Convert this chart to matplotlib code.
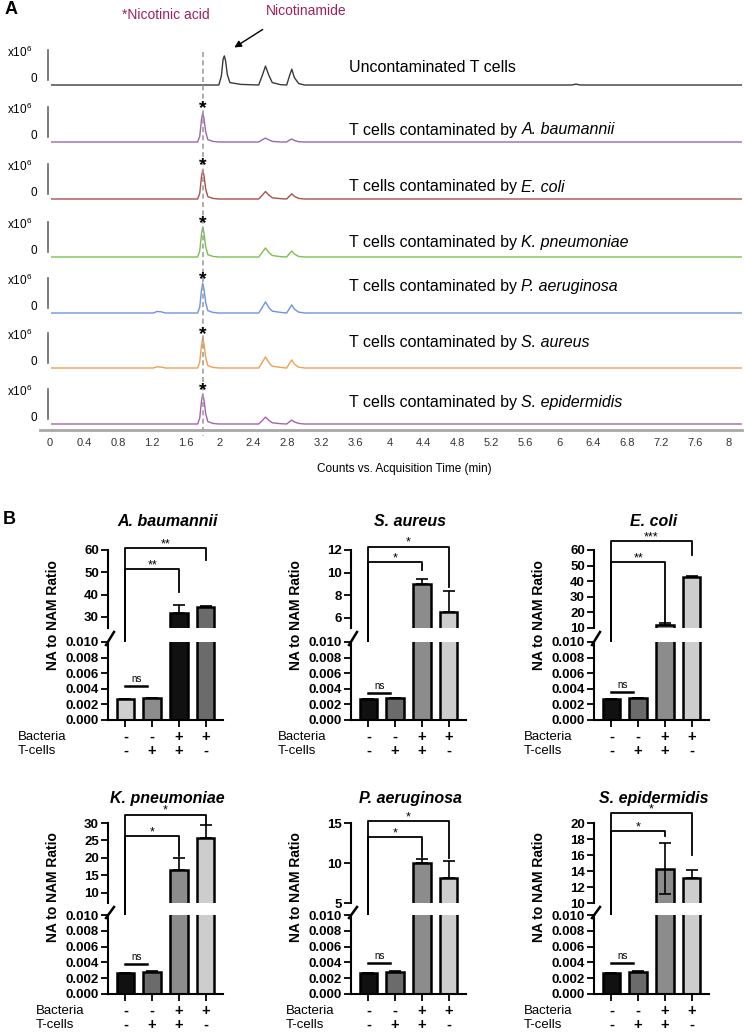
import numpy as np
import matplotlib.pyplot as plt
from matplotlib.lines import Line2D
from matplotlib.transforms import offset_copy

plt.rcParams['font.family'] = ['Liberation Sans', 'DejaVu Sans']
plt.rcParams['mathtext.fontset'] = 'custom'
plt.rcParams['mathtext.rm'] = 'Liberation Sans'
plt.rcParams['mathtext.it'] = 'Liberation Sans:italic'
plt.rcParams['mathtext.bf'] = 'Liberation Sans:bold'

# ---------------- panel A data: chromatograms (x10^6 counts)
time_min = [0.02, 1.22, 1.26, 1.31, 1.36, 1.74, 1.765, 1.785, 1.80, 1.815, 1.835, 1.86, 1.92,
            1.99, 2.02, 2.04, 2.055, 2.07, 2.09, 2.12, 2.25,
            2.46, 2.50, 2.54, 2.58, 2.62, 2.72,
            2.79, 2.82, 2.85, 2.88, 2.93, 3.00,
            6.15, 6.20, 6.25, 8.15]
trace_uncont = [0, 0, 0, 0, 0, 0, 0, 0, 0, 0, 0, 0, 0,
                0, 0.30, 0.85, 0.97, 0.80, 0.35, 0.08, 0.02,
                0, 0.30, 0.63, 0.32, 0.08, 0.01,
                0, 0.28, 0.53, 0.25, 0.05, 0,
                0, 0.03, 0, 0]
trace_abau = [0, 0, 0, 0, 0, 0, 0.19, 0.73, 0.97, 0.78, 0.34, 0.08, 0.02,
              0, 0, 0, 0, 0, 0, 0, 0,
              0, 0.07, 0.13, 0.07, 0.02, 0,
              0, 0.06, 0.10, 0.05, 0.01, 0,
              0, 0, 0, 0]
trace_ecoli = [0, 0, 0, 0, 0, 0, 0.19, 0.73, 0.97, 0.78, 0.34, 0.08, 0.02,
               0, 0, 0, 0, 0, 0, 0, 0,
               0, 0.12, 0.25, 0.13, 0.04, 0.01,
               0, 0.09, 0.17, 0.09, 0.02, 0,
               0, 0, 0, 0]
trace_kpneu = [0, 0, 0, 0, 0, 0, 0.20, 0.75, 1.0, 0.80, 0.35, 0.08, 0.02,
               0, 0, 0, 0, 0, 0, 0, 0,
               0, 0.15, 0.30, 0.15, 0.05, 0.01,
               0, 0.11, 0.20, 0.10, 0.02, 0,
               0, 0, 0, 0]
trace_paer = [0, 0, 0.05, 0.04, 0, 0, 0.20, 0.75, 1.0, 0.80, 0.35, 0.08, 0.02,
              0, 0, 0, 0, 0, 0, 0, 0,
              0, 0.18, 0.37, 0.18, 0.06, 0.02,
              0, 0.14, 0.27, 0.13, 0.03, 0,
              0, 0, 0, 0]
trace_saur = [0, 0, 0.04, 0.03, 0, 0, 0.20, 0.75, 1.0, 0.80, 0.35, 0.08, 0.02,
              0, 0, 0, 0, 0, 0, 0, 0,
              0, 0.18, 0.37, 0.18, 0.06, 0.02,
              0, 0.14, 0.27, 0.13, 0.03, 0,
              0, 0, 0, 0]
trace_sepi = [0, 0, 0, 0, 0, 0, 0.20, 0.75, 1.0, 0.80, 0.35, 0.08, 0.02,
              0, 0, 0, 0, 0, 0, 0, 0,
              0, 0.11, 0.23, 0.12, 0.04, 0.01,
              0, 0.07, 0.13, 0.07, 0.02, 0,
              0, 0, 0, 0]
traces = [trace_uncont, trace_abau, trace_ecoli, trace_kpneu, trace_paer, trace_saur, trace_sepi]
trace_prefix = ['Uncontaminated T cells'] + ['T cells contaminated by'] * 6
trace_species = ['', 'A. baumannii', 'E. coli', 'K. pneumoniae', 'P. aeruginosa',
                 'S. aureus', 'S. epidermidis']
trace_colors = ['#3a3a3a', '#9a68ae', '#a8524b', '#7cc050', '#6e93e0', '#efa050', '#a860b0']
na_time = 1.80
time_ticks = [0, 0.4, 0.8, 1.2, 1.6, 2, 2.4, 2.8, 3.2, 3.6, 4, 4.4, 4.8,
              5.2, 5.6, 6, 6.4, 6.8, 7.2, 7.6, 8]

# ---------------- panel B data: NA to NAM ratio
groups = ['A. baumannii', 'S. aureus', 'E. coli', 'K. pneumoniae', 'P. aeruginosa', 'S. epidermidis']
bacteria_sign = ['-', '-', '+', '+']
tcell_sign = ['-', '+', '+', '-']
ratio_mean = [[0.0027, 0.0028, 31.8, 34.6],
              [0.0027, 0.0028, 9.0, 6.5],
              [0.0027, 0.0028, 12.0, 42.5],
              [0.0027, 0.0028, 16.5, 25.6],
              [0.0027, 0.0028, 10.0, 8.1],
              [0.0027, 0.0028, 14.3, 13.1]]
ratio_sd = [[0.00002, 0.00005, 3.6, 0.3],
            [0.00002, 0.00005, 0.4, 1.85],
            [0.00002, 0.00005, 1.0, 0.8],
            [0.00002, 0.00005, 3.6, 3.7],
            [0.00002, 0.00005, 0.55, 2.2],
            [0.00002, 0.00005, 3.2, 1.0]]
two_sided = [[False] * 4] * 5 + [[False, False, True, False]]
sig_pairs = [(0, 2), (0, 3)]
sig_labels = [['**', '**'], ['*', '*'], ['**', '***'], ['*', '*'], ['*', '*'], ['*', '*']]
upper_lim = [(25, 60), (5.1, 12), (10, 60), (7.1, 30), (5, 15), (10, 20)]
upper_ticks = [[30, 40, 50, 60], [6, 8, 10, 12], [10, 20, 30, 40, 50, 60],
               [10, 15, 20, 25, 30], [5, 10, 15], [10, 12, 14, 16, 18, 20]]
lower_ticks = [0, 0.002, 0.004, 0.006, 0.008, 0.010]
bar_colors = [['#cfcfcf', '#8c8c8c', '#111111', '#6b6b6b']] + \
             [['#111111', '#6b6b6b', '#8c8c8c', '#cdcdcd']] * 5

# annotation placement (upper-axis units / lower-axis units)
bracket_y = [(51.5, 60.9), (10.9, 12.3), (52, 65.8), (26.2, 32.4), (13.25, 15.25), (19.0, 21.25)]
bracket_leg = [(41.2, 55.5), (10.2, 8.7), (13.5, 56.8), (20.6, 29.5), (10.75, 10.6), (18.4, 16.0)]
left_leg = [0.0094, 0.0052, 0.0058, 0.0056, 0.0076, 0.0059]
ns_y = [0.0044, 0.0035, 0.0036, 0.0038, 0.0039, 0.0039]

W, H = 744, 1033
fig = plt.figure(figsize=(W / 100, H / 100), dpi=100)


def box(l, t, r, b):
    return [l / W, 1 - b / H, (r - l) / W, (b - t) / H]


def fx(x):
    return x / W


def fy(y):
    return 1 - y / H


# ================= panel A
ax = fig.add_axes(box(40, 35, 742, 430))
xscale = 84.84
ax.set_xlim((40 - 50) / xscale, (742 - 50) / xscale)
ax.set_ylim(0, 395)
base_px = [85, 142, 199, 257, 313, 368, 424]
label_up = [17, 12, 12, 14, 26, 25, 21]
scale = 30
for k, vals in enumerate(traces):
    base = 430 - base_px[k]
    ax.plot(time_min, base + scale * np.array(vals), color=trace_colors[k], lw=1.0)
    ax.plot([-0.024, -0.024], [base + 5, base + 35], color='#666666', lw=1.2, clip_on=False)
    ax.text(-0.51, base + 33, r'x10$^6$', fontsize=8.5, ha='left', va='center')
    ax.text(-0.19, base + 6, '0', fontsize=8.5, ha='center', va='center')
    t1 = ax.text(3.53, base + label_up[k], trace_prefix[k], fontsize=11.5, ha='left', va='center')
    if trace_species[k]:
        ax.annotate(trace_species[k], xy=(1, 0), xycoords=t1, xytext=(4, 0),
                    textcoords='offset pixels', ha='left', va='bottom',
                    fontsize=11.5, fontstyle='italic')
    if k > 0:
        ax.text(na_time, base + 33, '*', fontsize=14, fontweight='bold', ha='center', va='center')
ax.plot([na_time, na_time], [430 - 52, -6], color='#a0a0a0', lw=1.2, ls=(0, (3, 2)), clip_on=False)
for s in ['top', 'right', 'left']:
    ax.spines[s].set_visible(False)
ax.spines['bottom'].set_color('#a8a8a8')
ax.spines['bottom'].set_linewidth(2)
ax.set_yticks([])
ax.set_xticks(time_ticks, [f'{v:g}' for v in time_ticks])
ax.tick_params(axis='x', length=0, pad=6, labelsize=8, labelcolor='#333333')
ax.annotate('', xy=((232 - 50) / xscale, 430 - 49), xytext=((265 - 50) / xscale, 430 - 28),
            arrowprops=dict(arrowstyle='-|>', color='black', lw=1, mutation_scale=10),
            annotation_clip=False)
fig.text(fx(166), fy(15), '*Nicotinic acid', color='#a0205a', fontsize=10, ha='center', va='center')
fig.text(fx(306), fy(11), 'Nicotinamide', color='#a0205a', fontsize=10, ha='center', va='center')
fig.text(fx(404), fy(469), 'Counts vs. Acquisition Time (min)', fontsize=8.5, ha='center', va='center')
fig.text(fx(11), fy(10), 'A', fontsize=13, fontweight='bold', ha='center', va='center')
fig.text(fx(9), fy(520), 'B', fontsize=13, fontweight='bold', ha='center', va='center')

# ================= panel B
col_left = [108, 351, 594]
ax_w = 115
rows = [dict(hi=(550, 628), lo=(642, 720), title=522, ylab=615),
        dict(hi=(823, 903), lo=(915, 994), title=798, ylab=887)]
label_off = [90, 73, 70, 72, 65, 70]
x = np.arange(4)
for i, name in enumerate(groups):
    r, c = divmod(i, 3)
    l = col_left[c]
    ht, hb = rows[r]['hi']
    lt, lb = rows[r]['lo']
    ax_hi = fig.add_axes(box(l, ht, l + ax_w, hb))
    ax_lo = fig.add_axes(box(l, lt, l + ax_w, lb))
    err_lo = [sd if two else 0 for sd, two in zip(ratio_sd[i], two_sided[i])]
    for a in (ax_hi, ax_lo):
        a.bar(x, ratio_mean[i], width=0.66, color=bar_colors[i], edgecolor='black',
              linewidth=1.8, zorder=2)
        a.errorbar(x, ratio_mean[i], yerr=[err_lo, ratio_sd[i]], fmt='none', ecolor='black',
                   elinewidth=1.2, capsize=4, capthick=1.2, zorder=3)
        a.set_xlim(-0.65, 3.65)
        a.spines[['top', 'right']].set_visible(False)
        a.spines['left'].set_linewidth(1.5)
        a.tick_params(axis='y', length=5, width=1.3, pad=1.5)
    ax_hi.set_ylim(*upper_lim[i])
    ax_hi.set_yticks(upper_ticks[i], [f'{v:g}' for v in upper_ticks[i]], fontsize=9.5, fontweight='bold')
    ax_hi.spines['bottom'].set_visible(False)
    ax_hi.tick_params(axis='x', bottom=False, labelbottom=False)
    ax_lo.set_ylim(0, 0.010)
    ax_lo.set_yticks(lower_ticks, [f'{v:.3f}' for v in lower_ticks], fontsize=9.5, fontweight='bold')
    ax_lo.spines['bottom'].set_linewidth(1.5)
    ax_lo.set_xticks(x, ['', '', '', ''])
    ax_lo.tick_params(axis='x', length=5, width=1.3)

    # +/- table
    for j in range(4):
        for sign, dy in ((bacteria_sign[j], -17), (tcell_sign[j], -31)):
            ax_lo.annotate(sign, xy=(j, 0), xycoords=('data', 'axes fraction'),
                           xytext=(0, dy), textcoords='offset pixels', ha='center', va='center',
                           fontsize=10.5, fontweight='bold')
    fig.text(fx(l - label_off[i]), fy(lb + 17), 'Bacteria', fontsize=9.5, ha='left', va='center')
    fig.text(fx(l - label_off[i]), fy(lb + 31), 'T-cells', fontsize=9.5, ha='left', va='center')

    # significance brackets
    disp = ax_lo.transData.transform((0, left_leg[i]))
    leg_hi = ax_hi.transData.inverted().transform(disp)[1]
    for (a0, b0), lab, yl, rb in zip(sig_pairs, sig_labels[i], bracket_y[i], bracket_leg[i]):
        ax_hi.plot([a0, a0, b0, b0], [leg_hi, yl, yl, rb], color='black', lw=1.3, clip_on=False)
        tr = offset_copy(ax_hi.transData, fig=fig, x=0, y=1, units='dots')
        ax_hi.text((a0 + b0) / 2, yl, lab, transform=tr, ha='center', va='baseline', fontsize=9)
    ax_lo.plot([0, 0.82], [ns_y[i]] * 2, color='black', lw=1.8, clip_on=False)
    tr = offset_copy(ax_lo.transData, fig=fig, x=0, y=4, units='dots')
    ax_lo.text(0.41, ns_y[i], 'ns', transform=tr, ha='center', va='baseline', fontsize=7)

    # axis break mark
    fig.add_artist(Line2D([fx(l - 2), fx(l + 6)], [fy(lt + 3), fy(hb + 4)], color='black', lw=1.8))

    fig.text(fx(l + ax_w / 2 + 2), fy(rows[r]['title']), name, fontsize=11.5, fontweight='bold',
             fontstyle='italic', ha='center', va='center')
    fig.text(fx(l - 55), fy(rows[r]['ylab']), 'NA to NAM Ratio', rotation=90, fontsize=10,
             fontweight='bold', ha='center', va='center')

fig.savefig('out.png', dpi=100)
